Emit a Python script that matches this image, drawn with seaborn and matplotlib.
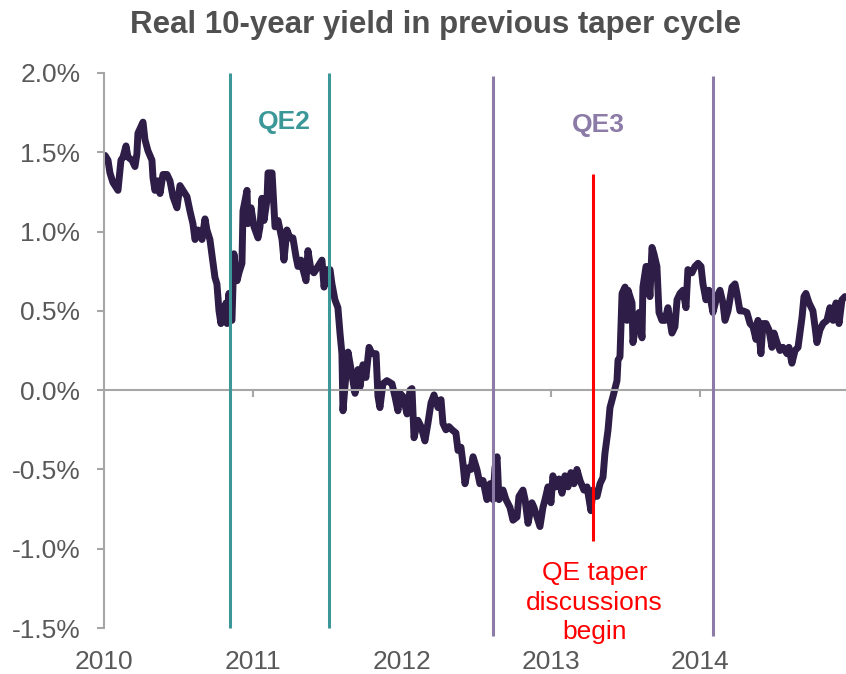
import matplotlib
matplotlib.use("Agg")
import matplotlib.pyplot as plt
import seaborn as sns
import pandas as pd

# years since start of 2010
t_years = [
    0.007, 0.027, 0.040, 0.060, 0.087, 0.094, 0.114, 0.128, 0.148, 0.161,
    0.188, 0.208, 0.221, 0.228, 0.262, 0.275, 0.295, 0.322, 0.329, 0.342,
    0.362, 0.376, 0.396, 0.423, 0.443, 0.463, 0.490, 0.510, 0.530, 0.557,
    0.577, 0.597, 0.611, 0.631, 0.658, 0.678, 0.691, 0.711, 0.732, 0.745,
    0.758, 0.772, 0.785, 0.799, 0.819, 0.826, 0.839, 0.846, 0.859, 0.872,
    0.893, 0.906, 0.926, 0.933, 0.960, 0.966, 0.987, 1.007, 1.034, 1.047,
    1.060, 1.074, 1.094, 1.101, 1.128, 1.148, 1.168, 1.195, 1.208, 1.228,
    1.248, 1.268, 1.289, 1.302, 1.322, 1.336, 1.356, 1.369, 1.389, 1.409,
    1.436, 1.463, 1.477, 1.497, 1.517, 1.530, 1.550, 1.570, 1.584, 1.597,
    1.604, 1.617, 1.638, 1.664, 1.685, 1.705, 1.718, 1.738, 1.758, 1.779,
    1.799, 1.826, 1.839, 1.852, 1.872, 1.899, 1.933, 1.953, 1.973, 1.987,
    2.007, 2.034, 2.054, 2.067, 2.081, 2.107, 2.128, 2.154, 2.174, 2.195,
    2.215, 2.242, 2.262, 2.275, 2.295, 2.315, 2.336, 2.362, 2.376, 2.396,
    2.409, 2.423, 2.443, 2.463, 2.477, 2.503, 2.523, 2.544, 2.570, 2.591,
    2.611, 2.624, 2.638, 2.651, 2.678, 2.698, 2.725, 2.745, 2.772, 2.785,
    2.812, 2.826, 2.846, 2.872, 2.886, 2.906, 2.926, 2.946, 2.960, 2.980,
    3.000, 3.013, 3.034, 3.054, 3.074, 3.094, 3.114, 3.134, 3.154, 3.174,
    3.195, 3.221, 3.242, 3.268, 3.282, 3.309, 3.329, 3.349, 3.362, 3.383,
    3.396, 3.416, 3.443, 3.450, 3.463, 3.477, 3.497, 3.510, 3.517, 3.544,
    3.550, 3.577, 3.591, 3.611, 3.617, 3.638, 3.651, 3.664, 3.678, 3.691,
    3.711, 3.725, 3.745, 3.765, 3.785, 3.812, 3.832, 3.846, 3.866, 3.886,
    3.906, 3.919, 3.946, 3.966, 3.987, 4.007, 4.020, 4.040, 4.060, 4.087,
    4.114, 4.134, 4.154, 4.168, 4.188, 4.215, 4.235, 4.248, 4.268, 4.289,
    4.315, 4.336, 4.356, 4.376, 4.389, 4.409, 4.423, 4.443, 4.463, 4.483,
    4.497, 4.517, 4.537, 4.557, 4.584, 4.597, 4.617, 4.638, 4.658, 4.685,
    4.698, 4.711, 4.732, 4.758, 4.772, 4.785, 4.805, 4.826, 4.852, 4.872,
    4.893, 4.913, 4.933, 4.953, 4.973,
]

# real 10-year yield, %
real_yield = [
    1.48, 1.45, 1.37, 1.31, 1.27, 1.26, 1.45, 1.47, 1.54, 1.47,
    1.45, 1.41, 1.49, 1.62, 1.69, 1.58, 1.51, 1.45, 1.34, 1.26,
    1.32, 1.24, 1.36, 1.36, 1.32, 1.22, 1.15, 1.29, 1.26, 1.22,
    1.13, 1.05, 0.95, 1.01, 0.95, 1.08, 1.01, 0.95, 0.80, 0.71,
    0.67, 0.50, 0.42, 0.49, 0.55, 0.42, 0.61, 0.44, 0.44, 0.86,
    0.69, 0.74, 0.80, 1.13, 1.26, 1.05, 1.15, 1.03, 0.96, 1.03,
    1.21, 1.07, 1.20, 1.37, 1.37, 1.03, 1.07, 0.95, 0.82, 1.01,
    0.96, 0.96, 0.84, 0.78, 0.82, 0.76, 0.69, 0.88, 0.76, 0.74,
    0.78, 0.82, 0.65, 0.76, 0.76, 0.67, 0.57, 0.52, 0.36, 0.23,
    -0.13, 0.02, 0.24, 0.10, -0.02, 0.13, 0.02, 0.16, 0.08, 0.27,
    0.23, 0.23, -0.04, -0.11, 0.04, 0.06, 0.04, -0.04, -0.13, -0.02,
    -0.04, -0.15, 0.00, 0.01, -0.30, -0.19, -0.23, -0.32, -0.21, -0.08,
    -0.03, -0.11, -0.06, -0.21, -0.25, -0.23, -0.25, -0.27, -0.38, -0.36,
    -0.46, -0.59, -0.49, -0.50, -0.42, -0.50, -0.59, -0.57, -0.69, -0.59,
    -0.69, -0.49, -0.42, -0.69, -0.63, -0.69, -0.74, -0.82, -0.80, -0.67,
    -0.63, -0.69, -0.84, -0.71, -0.74, -0.80, -0.86, -0.74, -0.69, -0.61,
    -0.71, -0.54, -0.61, -0.56, -0.65, -0.54, -0.61, -0.52, -0.59, -0.50,
    -0.57, -0.63, -0.61, -0.76, -0.63, -0.67, -0.59, -0.55, -0.40, -0.25,
    -0.11, -0.04, 0.06, 0.19, 0.21, 0.61, 0.65, 0.44, 0.63, 0.55,
    0.30, 0.44, 0.49, 0.33, 0.65, 0.78, 0.78, 0.59, 0.90, 0.86,
    0.78, 0.49, 0.44, 0.44, 0.52, 0.36, 0.40, 0.57, 0.61, 0.63,
    0.52, 0.76, 0.74, 0.78, 0.80, 0.78, 0.67, 0.57, 0.63, 0.49,
    0.59, 0.63, 0.55, 0.44, 0.50, 0.65, 0.67, 0.61, 0.50, 0.50,
    0.49, 0.42, 0.40, 0.32, 0.44, 0.23, 0.42, 0.42, 0.38, 0.27,
    0.36, 0.30, 0.25, 0.27, 0.23, 0.27, 0.17, 0.25, 0.27, 0.46,
    0.59, 0.61, 0.55, 0.50, 0.40, 0.30, 0.38, 0.42, 0.44, 0.52,
    0.44, 0.55, 0.42, 0.57, 0.59,
]

year_ticks = [2010, 2011, 2012, 2013, 2014]
y_ticks = [-1.5, -1.0, -0.5, 0.0, 0.5, 1.0, 1.5, 2.0]

qe2_dates = [2010.846, 2011.510]
qe3_dates = [2012.611, 2014.087]
taper_date = 2013.282

LINE_COLOR = "#2d1d47"
TEAL = "#3c9898"
PURPLE = "#8b7ba6"
RED = "#ff0000"
GREY_TEXT = "#595959"
GREY_AXIS = "#a6a6a6"

sns.set_style("white")
plt.rcParams["font.family"] = ["Liberation Sans", "DejaVu Sans"]

df = pd.DataFrame({"year": [2010 + v for v in t_years], "yield": real_yield})

fig = plt.figure(figsize=(8.46, 6.74), dpi=100)
ax = fig.add_axes([0.1229, 0.0682, 0.8771, 0.8235])

sns.lineplot(data=df, x="year", y="yield", ax=ax, color=LINE_COLOR,
             linewidth=5, sort=False, estimator=None)

# QE windows and taper marker
for d in qe2_dates:
    ax.vlines(d, -1.5, 2.0, color=TEAL, linewidth=2.2, clip_on=False, zorder=3)
for d in qe3_dates:
    ax.vlines(d, -1.55, 1.98, color=PURPLE, linewidth=2.2, clip_on=False, zorder=3)
ax.vlines(taper_date, -0.95, 1.36, color=RED, linewidth=2.2, zorder=3)

ax.text(2011.21, 1.69, "QE2", color=TEAL, fontsize=19,
        fontweight="bold", ha="center", va="center")
ax.text(2013.315, 1.67, "QE3", color=PURPLE, fontsize=19,
        fontweight="bold", ha="center", va="center")
ax.text(taper_date + 0.01, -1.34, "QE taper\ndiscussions\nbegin", color=RED,
        fontsize=19, ha="center", va="center", linespacing=1.28)

ax.set_xlim(2010, 2014.98)
ax.set_ylim(-1.5, 2.0)
ax.set_xlabel("")
ax.set_ylabel("")

ax.set_yticks(y_ticks)
ax.set_yticklabels([f"{v:.1f}%" for v in y_ticks])
ax.set_xticks(year_ticks[1:])
ax.tick_params(axis="y", left=True, direction="out", length=5, width=1.5,
               color=GREY_AXIS, labelsize=19, labelcolor=GREY_TEXT, pad=12)
ax.tick_params(axis="x", bottom=True, direction="out", length=5, width=1.5,
               color=GREY_AXIS, labelbottom=False)

for s in ["top", "right"]:
    ax.spines[s].set_visible(False)
ax.spines["left"].set_color(GREY_AXIS)
ax.spines["left"].set_linewidth(1.5)
ax.spines["bottom"].set_position(("data", 0))
ax.spines["bottom"].set_color(GREY_AXIS)
ax.spines["bottom"].set_linewidth(1.5)

# year labels sit below the plot, not on the zero line
sec = ax.secondary_xaxis("bottom")
sec.set_xticks(year_ticks)
sec.set_xticklabels([str(y) for y in year_ticks])
sec.tick_params(length=0, pad=16, labelsize=19, labelcolor=GREY_TEXT)
sec.spines["bottom"].set_visible(False)

fig.text(0.515, 0.951, "Real 10-year yield in previous taper cycle",
         ha="center", va="baseline", fontsize=22.5, fontweight="bold",
         color="#505050")

fig.savefig("out.png", dpi=100)
